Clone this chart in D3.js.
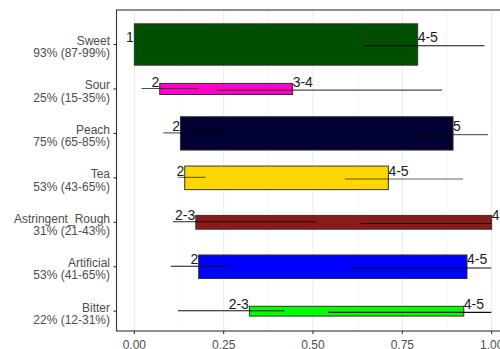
<!DOCTYPE html>
<html><head><meta charset="utf-8">
<script src="https://cdn.jsdelivr.net/npm/d3@7"></script>
<style>body{margin:0;background:#fff}svg{display:block;font-family:"Liberation Sans",Arial,sans-serif}</style>
</head><body><svg id="c" width="500" height="349"></svg>
<script>
const categories = ["Sweet","Sour","Peach","Tea","Astringent_Rough","Artificial","Bitter"];
const subLabels = ["93% (87-99%)","25% (15-35%)","75% (65-85%)","53% (43-65%)","31% (21-43%)","53% (41-65%)","22% (12-31%)"];
const pct = [0.93,0.25,0.75,0.53,0.31,0.53,0.22];
const barStart = [0.0,0.071,0.129,0.141,0.172,0.180,0.322];
const barEnd = [0.793,0.443,0.892,0.711,1.0,0.931,0.922];
const lowCI = [[0,0],[0.020,0.179],[0.081,0.261],[0.122,0.199],[0.108,0.509],[0.102,0.268],[0.122,0.420]];
const highCI = [[0.641,0.980],[0.231,0.861],[0.780,0.990],[0.589,0.920],[0.632,1.0],[0.601,0.999],[0.542,0.999]];
const startLabels = ["1","2","2","2","2-3","2","2-3"];
const endLabels = ["4-5","3-4","5","4-5","4","4-5","4-5"];
const xTicks = [0,0.25,0.5,0.75,1];
const xMinor = [0.125,0.375,0.625,0.875];
const barColors = ["#004f00","#ff00c8","#000033","#ffd700","#8b1a1a","#0000ff","#00ff00"];
const lineOpacity = [0.95,0.7,0.6,0.6,0.85,0.95,0.95];

const svg = d3.select("#c");
const pL = 116.5, pR = 509.5, pT = 10, pB = 331;
const x = d3.scaleLinear().domain([-0.05,1.05]).range([pL,pR]);
const y = d3.scalePoint().domain(categories).range([44.5,311.2]);
const step = y.step();
const color = d3.scaleOrdinal().domain(categories).range(barColors);

// grid
svg.append("g").selectAll("line.minor").data(xMinor).join("line")
  .attr("x1",d=>x(d)).attr("x2",d=>x(d)).attr("y1",pT).attr("y2",pB)
  .attr("stroke","#f0f0f0").attr("stroke-width",0.6);
svg.append("g").selectAll("line.major").data(xTicks).join("line")
  .attr("x1",d=>x(d)).attr("x2",d=>x(d)).attr("y1",pT).attr("y2",pB)
  .attr("stroke","#ebebeb").attr("stroke-width",1.1);

const rows = categories.map((c,i)=>({c,i}));
// bars
svg.append("g").selectAll("rect").data(rows).join("rect")
  .attr("x",d=>x(barStart[d.i])).attr("width",d=>x(barEnd[d.i])-x(barStart[d.i]))
  .attr("y",d=>y(d.c)-pct[d.i]*step/2).attr("height",d=>pct[d.i]*step)
  .attr("fill",d=>color(d.c)).attr("stroke","#333").attr("stroke-width",1);
// CI lines
const lg = svg.append("g");
lg.selectAll("line.lo").data(rows).join("line")
  .attr("x1",d=>x(lowCI[d.i][0])).attr("x2",d=>x(lowCI[d.i][1]))
  .attr("y1",d=>y(d.c)-0.5).attr("y2",d=>y(d.c)-0.5)
  .attr("stroke","#000").attr("stroke-opacity",d=>lineOpacity[d.i]).attr("stroke-width",1.1);
lg.selectAll("line.hi").data(rows).join("line")
  .attr("x1",d=>x(highCI[d.i][0])).attr("x2",d=>x(highCI[d.i][1]))
  .attr("y1",d=>y(d.c)+1.2).attr("y2",d=>y(d.c)+1.2)
  .attr("stroke","#000").attr("stroke-opacity",d=>lineOpacity[d.i]).attr("stroke-width",1.1);
// bar labels
const tg = svg.append("g").attr("font-size",14).attr("fill","#1a1a1a");
tg.selectAll("text.s").data(rows).join("text")
  .attr("x",d=>x(barStart[d.i])-0.5).attr("y",d=>y(d.c)-2.3)
  .attr("text-anchor","end").text(d=>startLabels[d.i]);
tg.selectAll("text.e").data(rows).join("text")
  .attr("x",d=>x(barEnd[d.i])).attr("y",d=>y(d.c)-2.3)
  .attr("text-anchor","start").text(d=>endLabels[d.i]);

// panel border
svg.append("rect").attr("x",pL).attr("y",pT).attr("width",pR-pL).attr("height",pB-pT)
  .attr("fill","none").attr("stroke","#333").attr("stroke-width",1.1);

// y axis
const ya = svg.append("g");
rows.forEach(d=>{
  const yy = y(d.c);
  ya.append("line").attr("x1",pL-3).attr("x2",pL).attr("y1",yy).attr("y2",yy).attr("stroke","#333").attr("stroke-width",1.1);
  const t = ya.append("text").attr("text-anchor","end").attr("font-size",12).attr("fill","#4d4d4d");
  t.append("tspan").attr("x",110).attr("y",yy+0.5).text(d.c);
  t.append("tspan").attr("x",110).attr("y",yy+12.7).text(subLabels[d.i]);
});
// x axis
const xa = svg.append("g");
xTicks.forEach(v=>{
  xa.append("line").attr("x1",x(v)).attr("x2",x(v)).attr("y1",pB).attr("y2",pB+3).attr("stroke","#333").attr("stroke-width",1.1);
  xa.append("text").attr("x",x(v)).attr("y",pB+17.5).attr("text-anchor","middle").attr("font-size",12).attr("fill","#4d4d4d").text(d3.format(".2f")(v));
});
</script></body></html>
